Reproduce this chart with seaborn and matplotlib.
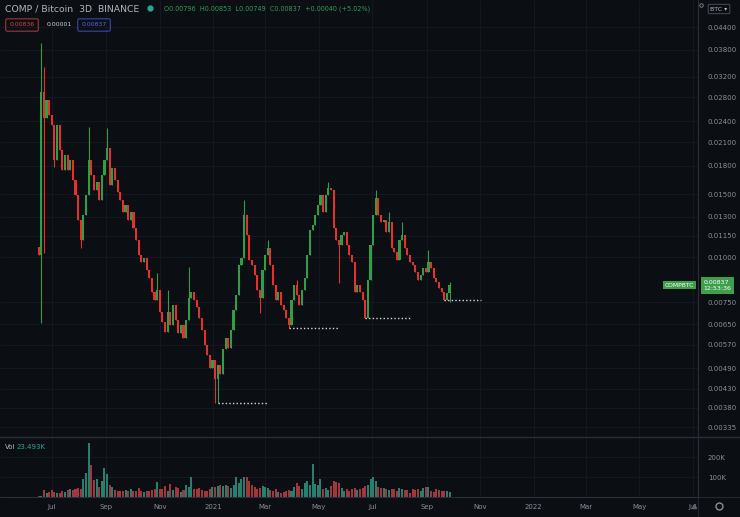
import matplotlib.pyplot as plt
import matplotlib.dates as mdates
import matplotlib.transforms as mtransforms
from matplotlib.lines import Line2D
from matplotlib.patches import Rectangle
from matplotlib.ticker import FixedLocator, NullLocator, FuncFormatter
import pandas as pd
import seaborn as sns

# COMP/BTC, 3 day candles on Binance
first_open = 0.01072
close = [
    0.01017, 0.02898, 0.02453, 0.02753, 0.02500, 0.02345, 0.01873, 0.02345, 0.01997, 0.01756,
    0.01934, 0.01756, 0.01873, 0.01647, 0.01496, 0.01274, 0.01120, 0.01315, 0.01496, 0.01873,
    0.01701, 0.01545, 0.01626, 0.01448, 0.01701, 0.01873, 0.02023, 0.01595, 0.01779, 0.01647,
    0.01525, 0.01448, 0.01341, 0.01403, 0.01274, 0.01341, 0.01210, 0.01120, 0.01017, 0.00972,
    0.00998, 0.00924, 0.00878, 0.00802, 0.00762, 0.00813, 0.00706, 0.00662, 0.00620, 0.00706,
    0.00649, 0.00738, 0.00670, 0.00616, 0.00649, 0.00597, 0.00670, 0.00772, 0.00802, 0.00762,
    0.00729, 0.00679, 0.00628, 0.00571, 0.00535, 0.00492, 0.00518, 0.00456, 0.00502, 0.00471,
    0.00553, 0.00597, 0.00560, 0.00628, 0.00715, 0.00787, 0.00954, 0.00998, 0.01315, 0.01157,
    0.00985, 0.00954, 0.00895, 0.00813, 0.00772, 0.00924, 0.01017, 0.01064, 0.00954, 0.00839,
    0.00762, 0.00802, 0.00738, 0.00715, 0.00679, 0.00649, 0.00762, 0.00839, 0.00787, 0.00738,
    0.00813, 0.00878, 0.01017, 0.01195, 0.01234, 0.01315, 0.01403, 0.01496, 0.01341, 0.01496,
    0.01565, 0.01545, 0.01210, 0.01120, 0.01085, 0.01157, 0.01179, 0.01085, 0.01017, 0.00972,
    0.00802, 0.00839, 0.00802, 0.00762, 0.00679, 0.00866, 0.01085, 0.01315, 0.01467, 0.01315,
    0.01257, 0.01274, 0.01179, 0.01257, 0.01064, 0.01037, 0.00985, 0.01120, 0.01157, 0.01064,
    0.01017, 0.00972, 0.00954, 0.00912, 0.00866, 0.00895, 0.00936, 0.00912, 0.00972, 0.00936,
    0.00878, 0.00855, 0.00823, 0.00802, 0.00762, 0.00796, 0.00837,
]
# candles whose wicks stick out noticeably
wick_high = {1: 0.0397, 2: 0.0340, 19: 0.02315, 26: 0.02300, 45: 0.00906, 49: 0.00813,
             57: 0.00942, 78: 0.01448, 87: 0.01120, 98: 0.00866, 110: 0.01626,
             128: 0.01545, 133: 0.01341, 138: 0.01257, 148: 0.01051, 156: 0.00853}
wick_low = {1: 0.00657, 2: 0.01030, 6: 0.01791, 16: 0.01064, 67: 0.00393, 68: 0.00393,
            84: 0.00701, 95: 0.00637, 114: 0.00850, 154: 0.00758, 156: 0.00749}

# volume in thousands
volume_k = [
    3, 6, 33, 20, 25, 35, 25, 22, 20, 30,
    25, 35, 40, 35, 40, 45, 40, 90, 120, 268,
    158, 83, 92, 50, 80, 147, 117, 60, 50, 35,
    30, 30, 30, 35, 30, 40, 30, 28, 45, 30,
    25, 30, 28, 35, 40, 75, 40, 40, 55, 30,
    67, 35, 50, 45, 25, 35, 60, 50, 100, 40,
    40, 45, 35, 30, 30, 40, 50, 50, 55, 60,
    55, 60, 55, 45, 60, 100, 70, 90, 100, 100,
    80, 60, 50, 40, 45, 55, 50, 45, 35, 30,
    40, 25, 20, 25, 30, 35, 30, 50, 70, 55,
    40, 70, 80, 60, 167, 65, 60, 90, 40, 45,
    35, 55, 80, 75, 70, 45, 30, 40, 30, 40,
    45, 35, 40, 45, 55, 60, 90, 100, 80, 50,
    45, 45, 40, 35, 40, 40, 30, 45, 40, 35,
    35, 20, 40, 35, 40, 30, 45, 50, 50, 30,
    25, 40, 35, 30, 30, 30, 23.493,
]

# dotted "low" markers: candle index and how many candles they run
low_marks = [68, 95, 124, 154]
low_mark_len = [19, 19, 17, 14]

price_ticks = [0.044, 0.038, 0.032, 0.028, 0.024, 0.021, 0.018, 0.015, 0.013, 0.0115,
               0.010, 0.0075, 0.0065, 0.0057, 0.0049, 0.0043, 0.0038, 0.00335]
month_ticks = ["2020-07-01", "2020-09-01", "2020-11-01", "2021-01-01", "2021-03-01",
               "2021-05-01", "2021-07-01", "2021-09-01", "2021-11-01", "2022-01-01",
               "2022-03-01", "2022-05-01", "2022-07-01"]
month_labels = ["Jul", "Sep", "Nov", "2021", "Mar", "May", "Jul", "Sep", "Nov", "2022",
                "Mar", "May", "Jul"]

# build the candle table
opens = [first_open] + close[:-1]
df = pd.DataFrame({
    "date": pd.date_range("2020-06-16", periods=len(close), freq="3D"),
    "open": opens,
    "close": close,
    "volume": [v * 1000 for v in volume_k],
})
df["high"] = [wick_high.get(i, max(o, c)) for i, (o, c) in enumerate(zip(df.open, df.close))]
df["low"] = [wick_low.get(i, min(o, c)) for i, (o, c) in enumerate(zip(df.open, df.close))]
df["up"] = df.close >= df.open
df["x"] = mdates.date2num(df.date)

bg = "#0b0e13"
grid_col = "#151922"
sep_col = "#2a2e39"
txt_col = "#b2b5be"
tick_col = "#8a8e99"
up_col = "#2f9e46"
down_col = "#e5312a"
vol_up = "#25806f"
vol_down = "#a3363b"

sns.set_theme(style="dark", rc={"axes.facecolor": bg, "figure.facecolor": bg,
                                "axes.edgecolor": bg, "grid.color": grid_col})
plt.rcParams["font.family"] = ["DejaVu Sans"]

W, H = 740, 517
fig = plt.figure(figsize=(W / 100, H / 100), dpi=100)
ax = fig.add_axes([0, 80 / H, 698 / W, 437 / H])
axv = fig.add_axes([0, 20 / H, 698 / W, 60 / H], sharex=ax)

# candles
ax.set_yscale("log")
cols = [up_col if u else down_col for u in df.up]
ax.vlines(df.x, df.low, df.high, colors=cols, lw=0.8, zorder=3)
body_lo = df[["open", "close"]].min(axis=1)
body_hi = df[["open", "close"]].max(axis=1)
ax.bar(df.x, body_hi - body_lo, bottom=body_lo, width=2.4, color=cols, lw=0, zorder=3)

# dotted low markers
for idx, n in zip(low_marks, low_mark_len):
    x0 = df.x[idx]
    x1 = df.x[idx] + 3 * n
    ax.plot([x0, x1], [df.low[idx]] * 2, color="#d8d8d8", lw=1.0,
            ls=(0, (1, 1.6)), zorder=4)

ax.set_xlim(mdates.date2num(pd.Timestamp("2020-05-03")), mdates.date2num(pd.Timestamp("2022-07-07")))
ax.set_ylim(0.00315, 0.05235)
ax.yaxis.set_major_locator(FixedLocator(price_ticks))
ax.yaxis.set_minor_locator(NullLocator())
ax.yaxis.set_major_formatter(FuncFormatter(lambda v, p: f"{v:.5f}"))
ax.yaxis.tick_right()
ax.tick_params(axis="y", which="both", length=0, labelsize=5, labelcolor=tick_col, pad=7)
ax.tick_params(axis="x", length=0, labelbottom=False)
ax.set_xticks(mdates.date2num(pd.to_datetime(month_ticks)))
ax.grid(True, color=grid_col, lw=0.6)

# volume pane
vcols = [vol_up if u else vol_down for u in df.up]
axv.bar(df.x, df.volume, width=2.3, color=vcols, lw=0)
axv.set_ylim(0, 300000)
axv.set_yticks([100000, 200000])
axv.set_yticklabels(["100K", "200K"])
axv.yaxis.tick_right()
axv.tick_params(axis="y", length=0, labelsize=5, labelcolor=tick_col, pad=7)
axv.set_xticks(mdates.date2num(pd.to_datetime(month_ticks)))
axv.set_xticklabels(month_labels)
axv.tick_params(axis="x", length=0, labelsize=5, labelcolor=tick_col, pad=5)
axv.grid(True, color=grid_col, lw=0.6)
sns.despine(fig=fig, left=True, bottom=True, right=True, top=True)

# pane separators
fig.add_artist(Line2D([0, 1], [1 - 437 / H] * 2, color=sep_col, lw=1.0, transform=fig.transFigure))
fig.add_artist(Line2D([0, 1], [1 - 497 / H] * 2, color=sep_col, lw=0.8, transform=fig.transFigure))
fig.add_artist(Line2D([698 / W] * 2, [0, 1], color=sep_col, lw=0.8, transform=fig.transFigure))
fig.add_artist(Rectangle((698.5 / W, 0), 41.5 / W, 19.5 / H, transform=fig.transFigure,
                         color=bg, zorder=5))
fig.add_artist(Line2D([719 / W], [1 - 506 / H], marker="o", ms=5, mfc="none", mec=tick_col,
                      mew=1.0, transform=fig.transFigure, zorder=6))
fig.add_artist(Line2D([694 / W], [1 - 506 / H], marker="^", ms=3, color="#5d616b",
                      transform=fig.transFigure, zorder=6))

# header
fig.text(5 / W, 1 - 9 / H, "COMP / Bitcoin  3D  BINANCE", fontsize=6.7, color=txt_col,
         va="center", ha="left")
fig.add_artist(Line2D([150 / W], [1 - 8 / H], marker="o", ms=3.5, color="#22ab94",
                      transform=fig.transFigure))
fig.text(164 / W, 1 - 9 / H, "O0.00796  H0.00853  L0.00749  C0.00837  +0.00040 (+5.02%)",
         fontsize=4.7, color="#2f9e55", va="center", ha="left")
fig.text(22 / W, 1 - 25 / H, "0.00836", fontsize=4.4, color="#d9464b", va="center", ha="center",
         bbox=dict(boxstyle="round,pad=0.6,rounding_size=0.25", fc="none", ec="#a8323a", lw=0.8))
fig.text(47 / W, 1 - 25 / H, "0.00001", fontsize=4.4, color="#d0d3da", va="center", ha="left")
fig.text(94 / W, 1 - 25 / H, "0.00837", fontsize=4.4, color="#4f6df5", va="center", ha="center",
         bbox=dict(boxstyle="round,pad=0.6,rounding_size=0.25", fc="none", ec="#3548b8", lw=0.8))
fig.text(719 / W, 1 - 9 / H, "BTC ▾", fontsize=4.5, color=txt_col, va="center", ha="center",
         bbox=dict(boxstyle="round,pad=0.35,rounding_size=0.2", fc=bg, ec="#4a4e59", lw=0.7))
fig.add_artist(Line2D([701 / W], [1 - 5 / H], marker="o", ms=2.5, mfc="none", mec=tick_col,
                      mew=0.6, transform=fig.transFigure))
fig.text(5 / W, 1 - 447 / H, "Vol", fontsize=5, color=txt_col, va="center", ha="left")
fig.text(17 / W, 1 - 447 / H, "23.493K", fontsize=5, color="#22ab94", va="center", ha="left")

# last price labels
last = df.close.iloc[-1]
blend = mtransforms.blended_transform_factory(ax.transAxes, ax.transData)
ax.text(1 - 4 / 698, last, "COMPBTC", transform=blend, fontsize=4.3, color="white",
        ha="right", va="center", zorder=6,
        bbox=dict(boxstyle="square,pad=0.3", fc="#3d9f4b", ec="none"))
ax.annotate(f"{last:.5f}\n12:53:36", xy=(1, last), xycoords=blend, xytext=(4, 3.5),
            textcoords="offset points", fontsize=4.5, color="white", ha="left", va="top",
            linespacing=1.25, annotation_clip=False, zorder=6,
            bbox=dict(boxstyle="square,pad=0.45", fc="#3d9f4b", ec="none"))

fig.savefig("out.png", dpi=100, facecolor=bg)
